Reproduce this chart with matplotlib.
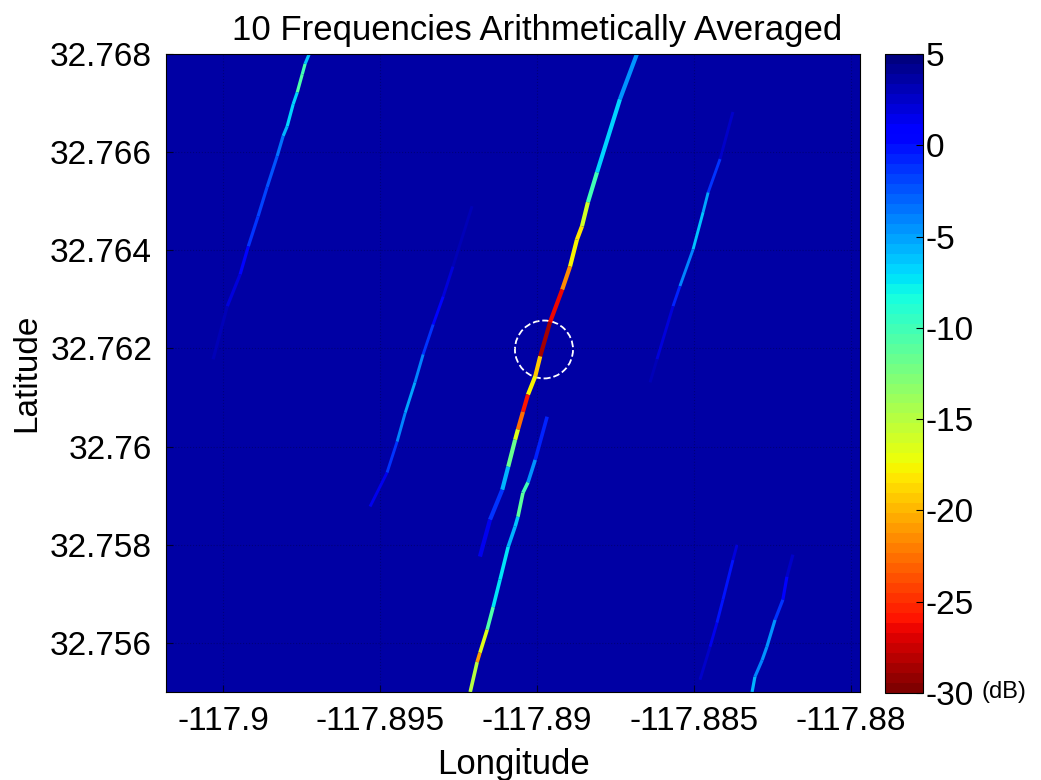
import numpy as np
import matplotlib
matplotlib.use('Agg')
import matplotlib.pyplot as plt
from matplotlib.collections import LineCollection
from matplotlib.patches import Ellipse
from matplotlib.colors import Normalize

# map window (deg)
lon_range = [-117.90182, -117.87971]
lat_range = [32.755, 32.768]
background_db = 3.6

# streaks: longitude, latitude, level (dB)
streak_a_lon = [-117.88682, -117.88736, -117.88809, -117.88838, -117.88857, -117.88873, -117.88895,
                -117.88920, -117.88959, -117.88990, -117.89006, -117.89029, -117.89045, -117.89061,
                -117.89070, -117.89092, -117.89111, -117.89150, -117.89182]
streak_a_lat = [32.76800, 32.76708, 32.76559, 32.76498, 32.76449, 32.76422, 32.76367,
                32.76320, 32.76253, 32.76184, 32.76143, 32.76106, 32.76071, 32.76035,
                32.76014, 32.75959, 32.75912, 32.75851, 32.75776]
streak_a_db = [-4, -5, -8, -12, -20, -17, -18, -25, -28, -29, -10, -25, -27, -18, -15, -8, -3, 0, 2.5]

streak_b_lon = [-117.88968, -117.89006, -117.89029, -117.89045, -117.89061, -117.89070, -117.89092,
                -117.89118, -117.89140, -117.89159, -117.89182, -117.89191, -117.89213]
streak_b_lat = [32.76061, 32.75973, 32.75927, 32.75906, 32.75857, 32.75837, 32.75796,
                32.75729, 32.75673, 32.75627, 32.75580, 32.75561, 32.75500]
streak_b_db = [1, -2, -7, -13, -9, -3, -8, -7, -8, -13, -20, -22, -8]

streak_c_lon = [-117.89726, -117.89739, -117.89748, -117.89764, -117.89777, -117.89796, -117.89809,
                -117.89828, -117.89860, -117.89889, -117.89920, -117.89946, -117.89987, -117.90032]
streak_c_lat = [32.76800, 32.76780, 32.76759, 32.76722, 32.76698, 32.76653, 32.76633,
                32.76592, 32.76529, 32.76469, 32.76408, 32.76351, 32.76286, 32.76178]
streak_c_db = [-5, -7, -13, -8, -6, -7, -4, -3, -2, -2, -1, 1.5, 2.8, 3.3]

streak_d_lon = [-117.89207, -117.89268, -117.89299, -117.89331, -117.89363, -117.89389, -117.89420,
                -117.89446, -117.89478, -117.89532]
streak_d_lat = [32.76490, 32.76367, 32.76306, 32.76249, 32.76188, 32.76131, 32.76069,
                32.76010, 32.75947, 32.75878]
streak_d_db = [3.2, 2.5, 1, 0, -3, -5, -5, -3, 0, 2.8]

streak_e_lon = [-117.88376, -117.88417, -117.88455, -117.88471, -117.88503, -117.88545, -117.88567,
                -117.88618, -117.88640]
streak_e_lat = [32.76682, 32.76586, 32.76518, 32.76478, 32.76402, 32.76327, 32.76286,
                32.76178, 32.76131]
streak_e_db = [3.2, 1.5, -4, -6, -6, -2, 1, 3, 3.4]

streak_f_lon = [-117.88363, -117.88376, -117.88408, -117.88427, -117.88449, -117.88481]
streak_f_lat = [32.75800, 32.75769, 32.75688, 32.75641, 32.75592, 32.75525]
streak_f_db = [3.2, 0.5, -1, 0.5, 2, 3.2]

streak_g_lon = [-117.88185, -117.88204, -117.88217, -117.88242, -117.88268, -117.88283, -117.88306,
                -117.88315]
streak_g_lat = [32.75780, 32.75735, 32.75688, 32.75647, 32.75592, 32.75565, 32.75531, 32.75500]
streak_g_db = [3.2, 1.5, 0, -3, -6, -3, -5, -6]

target_lon = -117.88978
target_lat = 32.76198
target_w = 0.00185
target_h = 0.00118

x_ticks = [-117.9, -117.895, -117.89, -117.885, -117.88]
x_labels = ['-117.9', '-117.895', '-117.89', '-117.885', '-117.88']
y_ticks = [32.756, 32.758, 32.76, 32.762, 32.764, 32.766, 32.768]
y_labels = ['32.756', '32.758', '32.76', '32.762', '32.764', '32.766', '32.768']
cbar_ticks = [5, 0, -5, -10, -15, -20, -25, -30]
cbar_labels = ['5', '0', '-5', '-10', '-15', '-20', '-25', '-30']

plt.rcParams['font.family'] = ['Liberation Sans', 'DejaVu Sans']
plt.rcParams['axes.unicode_minus'] = False

cmap = plt.get_cmap('jet_r', 64)
norm = Normalize(vmin=-30, vmax=5)

fig = plt.figure(figsize=(10.41, 7.8), dpi=100)
ax = fig.add_axes([0.1595, 0.1128, 0.6667, 0.8179])
cax = fig.add_axes([0.8501, 0.1115, 0.0365, 0.8192])

im = ax.imshow(np.full((2, 2), background_db), cmap=cmap, norm=norm, aspect='auto',
               extent=[lon_range[0], lon_range[1], lat_range[0], lat_range[1]],
               interpolation='nearest')

streaks = [
    (streak_a_lon, streak_a_lat, streak_a_db, 3.0),
    (streak_b_lon, streak_b_lat, streak_b_db, 2.6),
    (streak_c_lon, streak_c_lat, streak_c_db, 2.3),
    (streak_d_lon, streak_d_lat, streak_d_db, 2.1),
    (streak_e_lon, streak_e_lat, streak_e_db, 2.1),
    (streak_f_lon, streak_f_lat, streak_f_db, 2.1),
    (streak_g_lon, streak_g_lat, streak_g_db, 2.3),
]
for lon, lat, db, lw in streaks:
    pts = np.column_stack([lon, lat])
    segs = np.stack([pts[:-1], pts[1:]], axis=1)
    seg_db = (np.array(db[:-1]) + np.array(db[1:])) / 2.0
    lc = LineCollection(segs, cmap=cmap, norm=norm, linewidths=lw, capstyle='butt')
    lc.set_array(seg_db)
    ax.add_collection(lc)

ax.add_patch(Ellipse((target_lon, target_lat), target_w, target_h, fill=False,
                     edgecolor='white', linestyle='--', linewidth=1.3))

ax.set_xlim(lon_range)
ax.set_ylim(lat_range)
ax.set_xticks(x_ticks)
ax.set_xticklabels(x_labels)
ax.set_yticks(y_ticks)
ax.set_yticklabels(y_labels)
ax.tick_params(direction='in', length=5, color='#000030', labelsize=24, pad=10)
ax.grid(True, color='black', alpha=0.25, linestyle=':', linewidth=0.8)
ax.set_xlabel('Longitude', fontsize=25, labelpad=8)
ax.set_ylabel('Latitude', fontsize=24, labelpad=6)
ax.set_title('10 Frequencies Arithmetically Averaged', fontsize=25, pad=10, x=0.535)
for sp in ax.spines.values():
    sp.set_linewidth(0.8)

cb = fig.colorbar(im, cax=cax, ticks=cbar_ticks)
cb.ax.set_yticklabels(cbar_labels)
cb.ax.tick_params(direction='in', length=5, labelsize=24, pad=2)
cb.outline.set_linewidth(0.8)
fig.text(0.943, 0.113, '(dB)', fontsize=17, va='center', ha='left')

fig.savefig('out.png', dpi=100)
